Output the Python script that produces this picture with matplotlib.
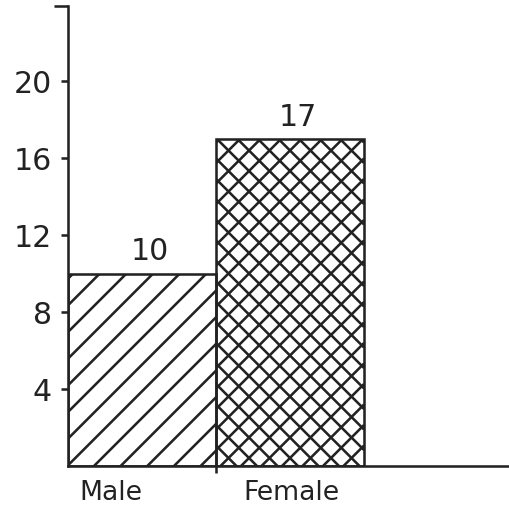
import numpy as np
import matplotlib
matplotlib.use("Agg")
import matplotlib.pyplot as plt
from matplotlib.collections import LineCollection
from matplotlib.transforms import IdentityTransform

categories = ["Male", "Female"]
values = [10, 17]
value_labels = ["10", "17"]
yticks = [4, 8, 12, 16, 20]
ytick_labels = ["4", "8", "12", "16", "20"]

DPI = 160
plt.rcParams["font.family"] = ["DejaVu Sans"]
plt.rcParams["hatch.linewidth"] = 1.15
plt.rcParams["hatch.color"] = "#222222"

fig = plt.figure(figsize=(509 / DPI, 508 / DPI), dpi=DPI)
ax = fig.add_axes([68 / 509, 42 / 508, (509 - 68) / 509, (466 - 6) / 508])

ink = "#222222"
lw = 1.15
xpos = np.arange(len(categories))
bars = ax.bar(xpos, values, width=1.0, align="edge", color="white",
              edgecolor=ink, linewidth=lw)
bars[0].set_hatch("//")

ax.set_xlim(0, 441 / 148)
ax.set_ylim(0, 23.9)

# denser cross-hatch for the second bar (texture clipped to the bar)
fig.canvas.draw()
bb = bars[1].get_window_extent()
x0, x1, y0, y1 = bb.x0, bb.x1, bb.y0, bb.y1
step = 20.5
segs = []
for c in np.arange(y0 - x1, y1 - x0 + step, step):
    segs.append([(x0, x0 + c), (x1, x1 + c)])
for c in np.arange(y0 + x0, y1 + x1 + step, step):
    segs.append([(x0, -x0 + c), (x1, -x1 + c)])
lc = LineCollection(segs, colors=ink, linewidths=lw, transform=IdentityTransform(),
                    zorder=bars[1].get_zorder() + 0.1)
ax.add_collection(lc)
lc.set_clip_path(bars[1])
bars[1].set_zorder(3)
bars[1].set_facecolor("none")

for rect, lab in zip(bars, value_labels):
    ax.annotate(lab, (rect.get_x() + rect.get_width() / 2 + 0.05, rect.get_height()),
                xytext=(0, 3.2), textcoords="offset points", ha="center", va="bottom",
                fontsize=13.5, color=ink)

for s in ["top", "right"]:
    ax.spines[s].set_visible(False)
for s in ["left", "bottom"]:
    ax.spines[s].set_linewidth(lw)
    ax.spines[s].set_color(ink)

ax.set_yticks(yticks)
ax.set_yticklabels(ytick_labels, fontsize=13.5, color=ink)
ax.tick_params(axis="y", direction="out", length=3.2, width=lw, pad=4, colors=ink)

ax.set_xticks([1])
ax.set_xticklabels([""])
ax.tick_params(axis="x", direction="out", length=3.2, width=lw, colors=ink)

label_x = [0.29, 1.51]
for xl, name in zip(label_x, categories):
    ax.text(xl, -0.75, name, ha="center", va="top", fontsize=12, color=ink,
            transform=ax.transData, clip_on=False)

# top cap of the y axis
ax.plot([-0.095, 0], [23.9, 23.9], color=ink, lw=lw, clip_on=False, solid_capstyle="butt")

fig.savefig("out.png", dpi=DPI, facecolor="white")
